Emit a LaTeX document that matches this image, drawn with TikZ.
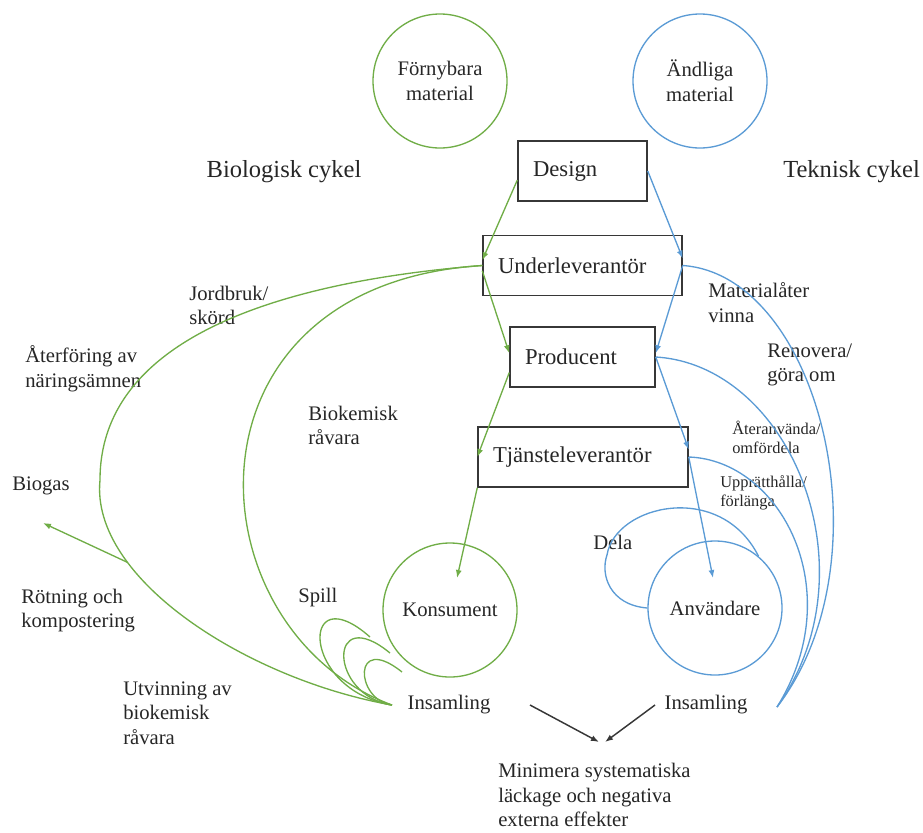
\documentclass[tikz,border=0pt]{standalone}
\usepackage{fontspec}
\setmainfont{Liberation Serif}
\usetikzlibrary{arrows.meta}
\definecolor{bgreen}{RGB}{112,173,71}
\definecolor{bblue}{RGB}{91,155,213}
\definecolor{boxgray}{RGB}{55,55,55}
\newcommand\boxfont{\fontsize{17}{20}\selectfont}
\newcommand\lblfont{\fontsize{15.5}{18.5}\selectfont}
\newcommand\cykfont{\fontsize{18.4}{22}\selectfont}
\newcommand\smlfont{\fontsize{12.3}{14.2}\selectfont}
\begin{document}
\begin{tikzpicture}[x=0.75pt, y=-0.75pt,
  every node/.style={inner sep=0pt, text=black!85, font=\lblfont},
  lbl/.style={anchor=west, align=left},
  kbox/.style={draw=boxgray, line width=1.1pt, minimum height=45pt, inner xsep=11.25pt, align=left, font=\boxfont},
  ring/.style={circle, line width=1pt, minimum size=100.5pt, align=center},
  gl/.style={bgreen, line width=1pt},
  bl/.style={bblue, line width=1pt},
  arr/.style={-{Latex[length=6pt,width=4.5pt]}}]
\useasboundingbox (0,0) rectangle (923,832);

\node (fm) at (440,81) [ring, draw=bgreen] {Förnybara\\material};
\node (am) at (700,81) [ring, draw=bblue] {Ändliga\\material};
\node (bio) at (284,172) [font=\cykfont] {Biologisk cykel};
\node (tek) at (783,172) [font=\cykfont, anchor=west] {Teknisk cykel};

\node (des) at (582.5,171) [kbox, text width=74.25pt] {Design};
\node (ul) at (582.5,265.5) [kbox, text width=126.75pt] {Underleverantör};
\node (pr) at (582.5,357) [kbox, text width=86.25pt] {Producent};
\node (tj) at (583,457) [kbox, text width=135pt] {Tjänsteleverantör};

\node (kon) at (450,610) [ring, draw=bgreen] {Konsument};
\node (anv) at (715,608) [ring, draw=bblue] {Användare};
\node (ins1) at (449,705) {Insamling};
\node (ins2) at (706,705) {Insamling};
\node (mini) at (498,795) [lbl] {Minimera systematiska\\läckage och negativa\\externa effekter};

\node (jord) at (189,305.5) [lbl] {Jordbruk/\\skörd};
\node (ater) at (25,369) [lbl] {Återföring av\\näringsämnen};
\node (biogas) at (12,486) [lbl] {Biogas};
\node (rot) at (21,610.5) [lbl] {Rötning och\\kompostering};
\node (utv) at (123,713) [lbl] {Utvinning av\\biokemisk\\råvara};
\node (biok) at (308,425.5) [lbl] {Biokemisk\\råvara};
\node (spill) at (298,598) [lbl] {Spill};
\node (mat) at (708,302.5) [lbl] {Materialåter\\vinna};
\node (ren) at (767,365) [lbl] {Renovera/\\göra om};
\node (ateran) at (732,437.5) [lbl, font=\smlfont] {Återanvända/\\omfördela};
\node (uppr) at (720,493) [lbl, font=\smlfont] {Upprätthålla/\\förlänga};
\node (dela) at (593,542) [lbl] {Dela};

\coordinate (gs) at (392,705);
\coordinate (bs) at (777,707);
\coordinate (konin) at (457,578);
\coordinate (anvin) at (713,578);
\coordinate (bgtip) at (43,523);
\coordinate (lkA) at (530,705);
\coordinate (lkB) at (655,705);
\coordinate (mA) at (599,742);
\coordinate (mB) at (605,742);

% biologisk cykel
\draw[gl, arr] (des.188) -- (ul.177);
\draw[gl, arr] (ul.183) -- (pr.177);
\draw[gl, arr] (pr.192) -- (tj.west);
\draw[gl, arr] (tj.south west) -- (konin);
\draw[gl] (gs) .. controls (250,680) and (90,580) .. (100,480) coordinate[pos=0.72] (bg)
  .. controls (100,330) and (300,280) .. (ul.west);
\draw[gl, arr] (bg) -- (bgtip);
\draw[gl] (gs) .. controls (190,630) and (170,285) .. (ul.west);
\draw[gl] (gs) .. controls (300,690) and (300,575) .. (370,637);
\draw[gl] (gs) .. controls (328,695) and (328,602) .. (390,653);
\draw[gl] (gs) .. controls (355,700) and (352,632) .. (402,672);

% teknisk cykel
\draw[bl, arr] (des.east) -- (ul.4);
\draw[bl, arr] (ul.east) -- (pr.3);
\draw[bl, arr] (pr.east) -- (tj.4);
\draw[bl, arr] (tj.east) -- (anvin);
\draw[bl] (ul.east) .. controls (820,275) and (890,560) .. (bs);
\draw[bl] (pr.east) .. controls (790,365) and (875,570) .. (bs);
\draw[bl] (tj.east) .. controls (780,460) and (850,590) .. (bs);
\draw[bl] (anv.west) .. controls (610,605) and (600,575) .. (607,555)
  .. controls (615,505) and (720,480) .. (anv.50);

\draw[boxgray, line width=1.1pt, arr] (lkA) -- (mA);
\draw[boxgray, line width=1.1pt, arr] (lkB) -- (mB);
\end{tikzpicture}
\end{document}
